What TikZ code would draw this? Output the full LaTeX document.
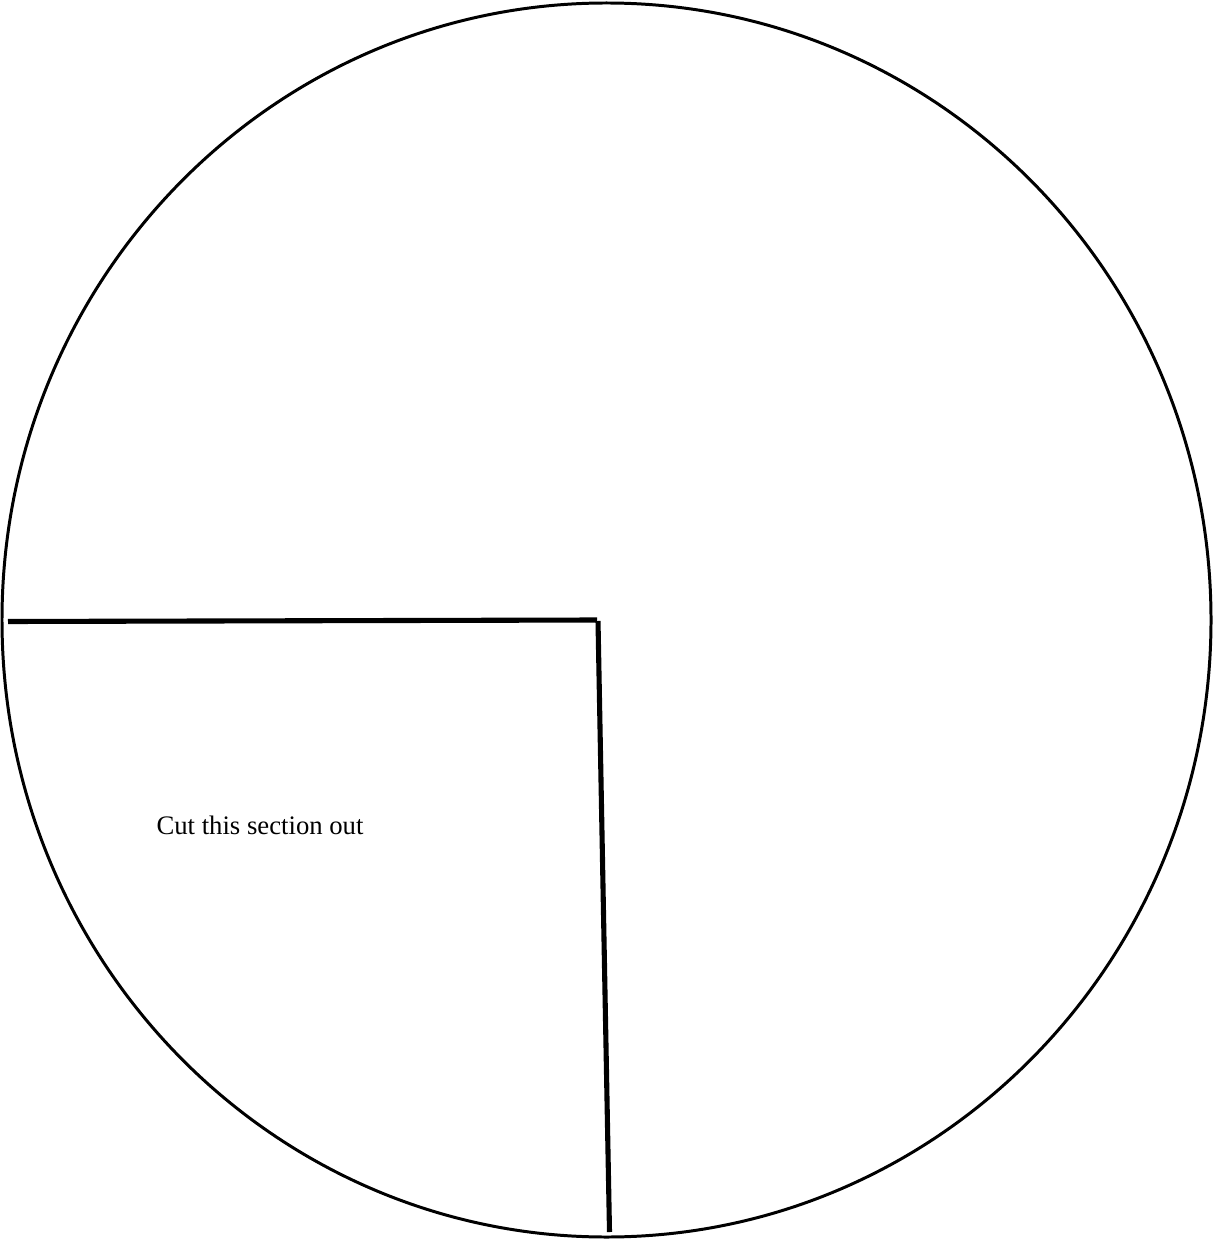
\documentclass[tikz,border=0pt]{standalone}
\usepackage{fontspec}
\setmainfont{Liberation Serif}

\begin{document}
\begin{tikzpicture}[x=0.02cm,y=-0.02cm]
\useasboundingbox (0,0) rectangle (1213,1239);

\draw[line width=1.7pt] (606.5,620) ellipse [x radius=604.5, y radius=617];
\draw[line width=2.9pt] (8,621.5) -- (597,620);
\draw[line width=2.9pt] (598,621) -- (609.5,1232);
\node[font=\fontsize{15.2pt}{18pt}\selectfont] (cutlabel) at (260,825) {Cut this section out};
\end{tikzpicture}
\end{document}
